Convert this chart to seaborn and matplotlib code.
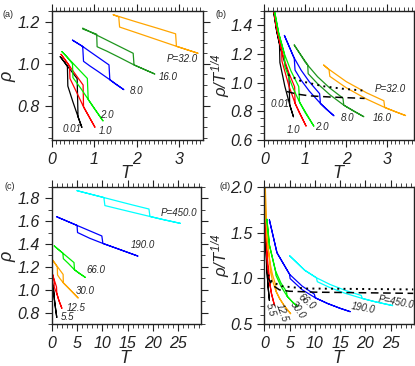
import numpy as np
import matplotlib
matplotlib.use("Agg")
import matplotlib.pyplot as plt
from matplotlib.ticker import MultipleLocator, FormatStrFormatter
import seaborn as sns

# ---- panel (a)/(b): loop paths (heating branch, then cooling branch back) ----
T_p001 = [0.20, 0.30, 0.40, 0.50, 0.60, 0.62, 0.71, 0.62, 0.50, 0.38, 0.37, 0.30, 0.20]
rho_p001 = [1.034, 1.008, 0.982, 0.956, 0.930, 0.750, 0.700, 0.750, 0.820, 0.895, 0.987, 1.008, 1.034]
T_p1 = [0.22, 0.30, 0.40, 0.50, 0.60, 0.74, 0.75, 0.85, 1.02, 0.75, 0.60, 0.43, 0.42, 0.30, 0.22]
rho_p1 = [1.045, 1.023, 0.995, 0.967, 0.939, 0.900, 0.797, 0.761, 0.700, 0.797, 0.860, 0.931, 0.990, 1.023, 1.045]
T_p2 = [0.24, 0.35, 0.50, 0.65, 0.84, 0.86, 1.00, 1.21, 0.86, 0.70, 0.50, 0.49, 0.35, 0.24]
rho_p2 = [1.058, 1.035, 1.003, 0.971, 0.931, 0.832, 0.790, 0.730, 0.832, 0.880, 0.935, 1.000, 1.035, 1.058]
T_p8 = [0.49, 0.71, 0.90, 1.10, 1.35, 1.37, 1.50, 1.70, 1.37, 1.10, 0.90, 0.75, 0.73, 0.49]
rho_p8 = [1.112, 1.085, 1.058, 1.030, 0.995, 0.925, 0.905, 0.878, 0.925, 0.963, 0.990, 1.012, 1.082, 1.112]
T_p16 = [0.73, 1.00, 1.30, 1.60, 1.92, 1.94, 2.20, 2.43, 1.94, 1.60, 1.30, 1.07, 1.06, 0.73]
rho_p16 = [1.169, 1.142, 1.112, 1.082, 1.050, 0.995, 0.972, 0.952, 0.995, 1.030, 1.060, 1.081, 1.140, 1.165]
T_p32 = [1.45, 1.55, 2.00, 2.50, 2.92, 2.94, 3.20, 3.45, 2.94, 2.50, 2.00, 1.60, 1.58, 1.45]
rho_p32 = [1.232, 1.226, 1.198, 1.168, 1.142, 1.083, 1.066, 1.050, 1.083, 1.113, 1.147, 1.174, 1.222, 1.232]

# ---- panel (c)/(d) ----
T_p55 = [0.02, 0.10, 0.20, 0.35, 0.50, 0.52, 0.75, 1.00, 0.75, 0.52, 0.40, 0.30, 0.28, 0.20, 0.10, 0.02]
rho_p55 = [1.090, 1.070, 1.045, 1.010, 0.975, 0.920, 0.840, 0.760, 0.840, 0.920, 0.955, 0.985, 1.025, 1.045, 1.070, 1.090]
T_p125 = [0.05, 0.20, 0.40, 0.70, 0.95, 1.00, 1.40, 2.00, 1.40, 1.00, 0.70, 0.50, 0.45, 0.20, 0.05]
rho_p125 = [1.150, 1.130, 1.100, 1.060, 1.025, 0.970, 0.910, 0.840, 0.910, 0.970, 1.000, 1.025, 1.085, 1.130, 1.150]
T_p30 = [0.10, 0.30, 0.60, 1.10, 1.60, 2.25, 2.30, 3.00, 4.00, 5.20, 4.00, 3.00, 2.30, 1.60, 1.15, 1.10, 0.60, 0.30, 0.10]
rho_p30 = [1.264, 1.252, 1.234, 1.204, 1.174, 1.135, 1.061, 1.030, 0.985, 0.930, 0.985, 1.030, 1.061, 1.100, 1.130, 1.200, 1.234, 1.252, 1.264]
T_p66 = [0.50, 1.00, 2.20, 3.30, 4.40, 4.50, 5.50, 6.60, 5.50, 4.50, 3.30, 2.30, 2.20, 1.00, 0.50]
rho_p66 = [1.383, 1.364, 1.320, 1.279, 1.238, 1.175, 1.143, 1.110, 1.143, 1.175, 1.230, 1.272, 1.320, 1.364, 1.383]
T_p190 = [1.0, 2.5, 5.0, 7.5, 9.9, 10.1, 12.5, 15.0, 17.0, 15.0, 12.5, 10.1, 7.5, 5.1, 5.0, 2.5, 1.0]
rho_p190 = [1.637, 1.609, 1.562, 1.515, 1.470, 1.405, 1.367, 1.327, 1.295, 1.327, 1.367, 1.405, 1.450, 1.500, 1.562, 1.609, 1.637]
T_p450 = [5.0, 8.0, 10.3, 13.0, 16.0, 19.2, 19.4, 22.0, 25.4, 22.0, 19.4, 16.0, 13.0, 10.5, 10.3, 8.0, 5.0]
rho_p450 = [1.865, 1.831, 1.805, 1.774, 1.740, 1.705, 1.640, 1.613, 1.580, 1.613, 1.640, 1.676, 1.708, 1.735, 1.805, 1.831, 1.865]

# dotted / dashed lines in (b) and (d)
b_dot_T = [0.58, 0.90, 1.44, 1.90, 2.40]
b_dot_v = [1.055, 1.010, 0.975, 0.958, 0.945]
b_dash_T = [0.55, 0.80, 1.10, 1.60, 2.45]
b_dash_v = [0.938, 0.920, 0.908, 0.900, 0.890]
d_dot_T = [0.7, 1.5, 3.5, 8.0, 29.5]
d_dot_v = [1.04, 0.96, 0.915, 0.89, 0.88]
d_dash_T = [0.6, 1.5, 3.0, 5.0, 10.0, 29.5]
d_dash_v = [1.02, 0.93, 0.875, 0.86, 0.85, 0.837]

labels_top = ['0.01', '1.0', '2.0', '8.0', '16.0', 'P=32.0']
labels_bot = ['5.5', '12.5', '30.0', '66.0', '190.0', 'P=450.0']

sns.set_style('ticks')
plt.rcParams['font.family'] = ['Liberation Sans', 'DejaVu Sans']
plt.rcParams['font.style'] = 'italic'
plt.rcParams['mathtext.fontset'] = 'custom'
plt.rcParams['mathtext.it'] = 'Liberation Sans:italic'
plt.rcParams['mathtext.rm'] = 'Liberation Sans:italic'

top_curves = [(T_p001, rho_p001, 'black'), (T_p1, rho_p1, '#ff0000'), (T_p2, rho_p2, '#00f000'),
              (T_p8, rho_p8, '#0000ff'), (T_p16, rho_p16, '#1e961e'), (T_p32, rho_p32, '#ffa500')]
bot_curves = [(T_p55, rho_p55, 'black'), (T_p125, rho_p125, '#ff0000'), (T_p30, rho_p30, '#ffa500'),
              (T_p66, rho_p66, '#00f000'), (T_p190, rho_p190, '#0000ff'), (T_p450, rho_p450, '#00ffff')]

fig = plt.figure(figsize=(4.15, 3.66), dpi=100)
ax_a = fig.add_axes([0.1246, 0.6175, 0.365, 0.3525])
ax_b = fig.add_axes([0.637, 0.6175, 0.360, 0.3525])
ax_c = fig.add_axes([0.1246, 0.114, 0.360, 0.376])
ax_d = fig.add_axes([0.637, 0.114, 0.360, 0.376])


def draw(ax, curves, scaled):
    for T, rho, c in curves:
        T = np.array(T)
        y = np.array(rho) / T ** 0.25 if scaled else np.array(rho)
        sns.lineplot(x=T, y=y, sort=False, estimator=None, color=c, lw=0.9, ax=ax)


draw(ax_a, top_curves, False)
draw(ax_b, top_curves, True)
draw(ax_c, bot_curves, False)
draw(ax_d, bot_curves, True)

for ax, dT, dv, sT, sv in [(ax_b, b_dot_T, b_dot_v, b_dash_T, b_dash_v),
                           (ax_d, d_dot_T, d_dot_v, d_dash_T, d_dash_v)]:
    sns.lineplot(x=dT, y=dv, sort=False, estimator=None, color='black', lw=1.4,
                 linestyle=(0, (1, 2.2)), ax=ax)
    sns.lineplot(x=sT, y=sv, sort=False, estimator=None, color='black', lw=1.1,
                 linestyle=(0, (5, 3)), ax=ax)

# curve labels
for (x, y), s in zip([(0.25, 0.694), (1.11, 0.681), (1.14, 0.757), (1.83, 0.872), (2.53, 0.939), (2.71, 1.023)], labels_top):
    ax_a.text(x, y, s, fontsize=7, ha='left', va='center')
for (x, y), s in zip([(0.155, 0.852), (0.545, 0.67), (1.23, 0.693), (1.87, 0.756), (2.65, 0.752), (2.70, 0.955)], labels_top):
    ax_b.text(x, y, s, fontsize=7, ha='left', va='center')
for (x, y), s in zip([(1.78, 0.76), (2.96, 0.846), (4.8, 0.987), (6.9, 1.17), (15.6, 1.394), (21.5, 1.67)], labels_bot):
    ax_c.text(x, y, s, fontsize=7, ha='left', va='center')
for (x, y, r), s in zip([(1.15, 0.663, -75), (3.5, 0.626, -70), (6.5, 0.655, -55), (8.4, 0.746, -40),
                         (19.5, 0.674, -10), (26.2, 0.74, -10)], labels_bot):
    ax_d.text(x, y, s, fontsize=7, ha='center', va='center', rotation=r, rotation_mode='anchor')

# axes limits and ticks
ax_a.set_xlim(0, 3.57); ax_a.set_ylim(0.64, 1.25)
ax_b.set_xlim(0, 3.65); ax_b.set_ylim(0.6, 1.5)
ax_c.set_xlim(0, 29.5); ax_c.set_ylim(0.7, 1.9)
ax_d.set_xlim(0, 29.6); ax_d.set_ylim(0.5, 2.0)

for ax in (ax_a, ax_b):
    ax.xaxis.set_major_locator(MultipleLocator(1))
    ax.xaxis.set_minor_locator(MultipleLocator(0.1))
    ax.yaxis.set_major_locator(MultipleLocator(0.2))
    ax.yaxis.set_minor_locator(MultipleLocator(0.05))
for ax in (ax_c, ax_d):
    ax.xaxis.set_major_locator(MultipleLocator(5))
    ax.xaxis.set_minor_locator(MultipleLocator(1))
ax_c.yaxis.set_major_locator(MultipleLocator(0.2))
ax_c.yaxis.set_minor_locator(MultipleLocator(0.1))
ax_d.yaxis.set_major_locator(MultipleLocator(0.5))
ax_d.yaxis.set_minor_locator(MultipleLocator(0.1))

for ax in (ax_a, ax_b, ax_c, ax_d):
    ax.xaxis.set_major_formatter(FormatStrFormatter('%d'))
    ax.yaxis.set_major_formatter(FormatStrFormatter('%.1f'))
    ax.tick_params(which='both', direction='out', top=True, right=True, labelsize=11.5, colors='#222222')
    ax.tick_params(which='major', length=5, width=0.8)
    ax.tick_params(which='minor', length=3, width=0.6)
    for sp in ax.spines.values():
        sp.set_linewidth(1.0)
        sp.set_color('#222222')
    ax.set_xlabel('$T$', fontsize=13, labelpad=-1)

ax_a.set_ylabel(r'$\rho$', fontsize=13)
ax_c.set_ylabel(r'$\rho$', fontsize=13)
ax_b.set_ylabel(r'$\rho/T^{1/4}$', fontsize=12)
ax_d.set_ylabel(r'$\rho/T^{1/4}$', fontsize=12)
ax_a.yaxis.set_label_coords(-0.225, 0.5)
ax_c.yaxis.set_label_coords(-0.225, 0.5)
ax_b.yaxis.set_label_coords(-0.215, 0.5)
ax_d.yaxis.set_label_coords(-0.215, 0.5)

for x, y, s in [(0.005, 0.96, '(a)'), (0.52, 0.96, '(b)'), (0.01, 0.49, '(c)'), (0.53, 0.49, '(d)')]:
    fig.text(x, y, s, fontsize=6.5, style='normal', ha='left', va='center')

fig.savefig('out.png', dpi=100)
